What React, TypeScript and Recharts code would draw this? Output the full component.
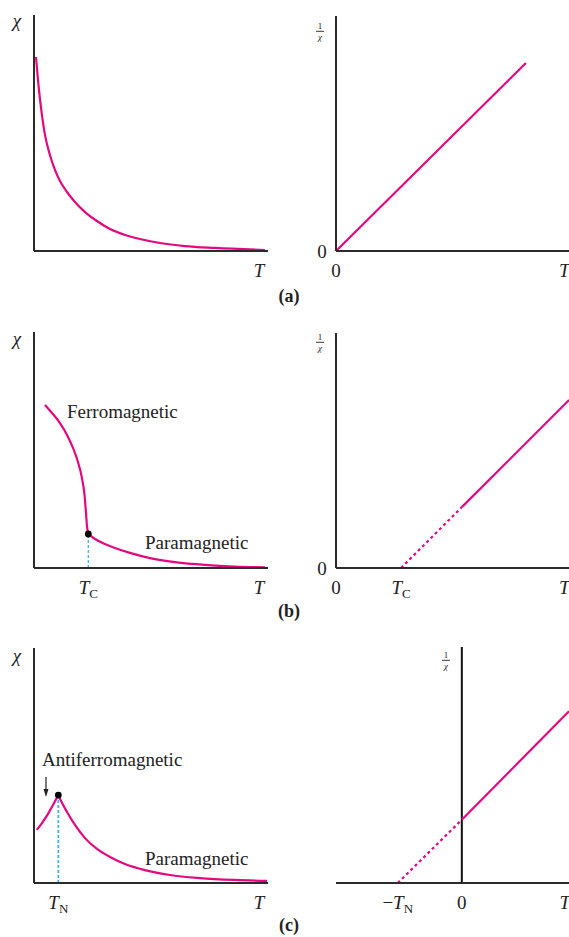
import React from "react";
import { LineChart, Line, XAxis, YAxis, ReferenceLine, ReferenceDot } from "recharts";

const MAGENTA = "#e4087f";
const AXIS = "#2b2b2b";
const CYAN = "#3cb6e8";
const FONT = '"Liberation Serif", "Times New Roman", serif';

// (a) paramagnet: chi vs T, and 1/chi vs T
const tA = [0.085, 0.17, 0.26, 0.34, 0.47, 0.68, 0.9, 1.11, 1.41, 1.75, 2.18, 2.69, 3.25, 3.89, 4.53, 5.38, 6.45, 7.74, 9.87];
const chiA = [8.22, 7.25, 6.4, 5.76, 4.92, 4.07, 3.43, 2.97, 2.5, 2.08, 1.65, 1.27, 0.93, 0.68, 0.51, 0.34, 0.21, 0.13, 0.04];
const tInvA = [0, 8.15];
const invA = [0, 8.0];

// (b) ferromagnet
const Tc = 2.32;
const tFerro = [0.47, 0.77, 1.11, 1.41, 1.67, 1.88, 2.05, 2.16, 2.22, 2.26, 2.32];
const chiFerro = [6.91, 6.57, 6.14, 5.64, 5.08, 4.49, 3.81, 3.09, 2.37, 1.82, 1.44];
const tParaB = [2.32, 2.61, 3.03, 3.46, 4.1, 4.96, 6.03, 7.31, 8.59, 9.87];
const chiParaB = [1.44, 1.23, 1.02, 0.85, 0.64, 0.42, 0.25, 0.13, 0.06, 0.03];
const TcInv = 2.79;
const tInvBDash = [2.79, 5.41];
const invBDash = [0, 2.6];
const tInvBSolid = [5.41, 10];
const invBSolid = [2.6, 7.15];

// (c) antiferromagnet
const TN = 1.04;
const tAnti = [0.12, 0.34, 0.6, 0.81, 1.04];
const chiAnti = [2.26, 2.55, 2.94, 3.32, 3.74];
const tParaC = [1.04, 1.2, 1.41, 1.75, 2.18, 2.69, 3.25, 3.89, 4.74, 5.81, 7.09, 8.59, 9.96];
const chiParaC = [3.74, 3.4, 3.02, 2.47, 1.91, 1.45, 1.11, 0.81, 0.55, 0.34, 0.21, 0.13, 0.09];
const TNInv = -2.75;
const tInvCDash = [-2.75, 0];
const invCDash = [0, 2.68];
const tInvCSolid = [0, 4.6];
const invCSolid = [2.68, 7.28];

const zip = (xs: number[], ys: number[]) => xs.map((x, i) => ({ x, y: ys[i] }));

type Tick = { v: number; main: string; sub?: string; minus?: boolean; italic?: boolean };
type Box = { left: number; top: number; w: number; h: number };
type Plot = { x0: number; x1: number; y0: number; y1: number };

const YW = 2;
const XH = 2;

function Panel(props: {
  box: Box;
  plot: Plot;
  xDomain: number[];
  xTicks: Tick[];
  yZero?: boolean;
  yLine?: boolean;
  children?: React.ReactNode;
}) {
  const { box, plot, xDomain, xTicks, yZero, yLine = true } = props;
  const margin = {
    top: plot.y0 - box.top,
    bottom: box.top + box.h - plot.y1 - XH,
    left: plot.x0 - box.left - YW,
    right: box.left + box.w - plot.x1,
  };
  const xTick = (p: any) => {
    const t = xTicks.find((k) => Math.abs(k.v - p.payload.value) < 1e-6);
    if (!t) return <g />;
    return (
      <text x={p.x} y={p.y + 26} textAnchor="middle" fontFamily={FONT} fontSize={19} fill="#222">
        {t.minus ? "\u2212" : null}
        <tspan fontStyle={t.italic ? "italic" : "normal"}>{t.main}</tspan>
        {t.sub ? (
          <tspan fontSize={13} dy={4}>
            {t.sub}
          </tspan>
        ) : null}
      </text>
    );
  };
  const yTick = (p: any) => (
    <text x={p.x - 14} y={p.y + 6.5} textAnchor="middle" fontFamily={FONT} fontSize={19} fill="#222">
      0
    </text>
  );
  return (
    <div style={{ position: "absolute", left: box.left, top: box.top }}>
      <LineChart width={box.w} height={box.h} margin={margin}>
        <XAxis
          type="number"
          dataKey="x"
          domain={xDomain}
          allowDataOverflow
          ticks={xTicks.map((t) => t.v)}
          interval={0}
          tick={xTick}
          tickLine={false}
          tickSize={0}
          tickMargin={0}
          height={XH}
          axisLine={{ stroke: AXIS, strokeWidth: 2 }}
        />
        <YAxis
          type="number"
          domain={[0, 10]}
          allowDataOverflow
          width={YW}
          ticks={yZero ? [0] : []}
          tick={yZero ? yTick : false}
          tickLine={false}
          tickSize={0}
          tickMargin={0}
          axisLine={yLine ? { stroke: AXIS, strokeWidth: 2 } : false}
        />
        {props.children}
      </LineChart>
    </div>
  );
}

const curve = (data: { x: number; y: number }[], key: string, dashed = false) => (
  <Line
    key={key}
    data={data}
    dataKey="y"
    type="monotone"
    stroke={MAGENTA}
    strokeWidth={2.2}
    strokeDasharray={dashed ? "3 3" : undefined}
    dot={false}
    activeDot={false}
    isAnimationActive={false}
  />
);

const T: Tick = { v: 9.62, main: "T", italic: true };

// 1 over chi
function Frac({ x, y }: { x: number; y: number }) {
  return (
    <g fontFamily={FONT} fill="#222">
      <text x={x} y={y} fontSize={9} textAnchor="middle">1</text>
      <line x1={x - 4} x2={x + 4} y1={y + 2.3} y2={y + 2.3} stroke="#222" strokeWidth={0.9} />
      <text x={x} y={y + 10.5} fontSize={9} fontStyle="italic" textAnchor="middle">χ</text>
    </g>
  );
}

export default function App() {
  const txt = { fontFamily: FONT, fontSize: 19, fill: "#222" } as const;
  return (
    <div style={{ position: "absolute", left: 0, top: 0, width: 569, height: 937, background: "#fff", overflow: "hidden" }}>
      {/* (a) */}
      <Panel box={{ left: 0, top: 0, w: 290, h: 310 }} plot={{ x0: 34, x1: 268, y0: 15, y1: 251 }} xDomain={[0, 10]} xTicks={[T]}>
        {curve(zip(tA, chiA), "a")}
      </Panel>
      <Panel
        box={{ left: 290, top: 0, w: 279, h: 310 }}
        plot={{ x0: 336, x1: 569, y0: 16, y1: 251 }}
        xDomain={[0, 10]}
        xTicks={[{ v: 0, main: "0" }, { v: 9.8, main: "T", italic: true }]}
        yZero
      >
        {curve(zip(tInvA, invA), "ai")}
      </Panel>

      {/* (b) */}
      <Panel box={{ left: 0, top: 310, w: 290, h: 310 }} plot={{ x0: 34, x1: 268, y0: 332, y1: 568 }} xDomain={[0, 10]} xTicks={[{ v: Tc, main: "T", sub: "C", italic: true }, T]}>
        <ReferenceLine segment={[{ x: Tc, y: 0 }, { x: Tc, y: chiParaB[0] }]} stroke={CYAN} strokeWidth={1.3} strokeDasharray="3 2" />
        {curve(zip(tFerro, chiFerro), "bf")}
        {curve(zip(tParaB, chiParaB), "bp")}
        <ReferenceDot x={Tc} y={chiParaB[0]} r={3.4} fill="#000" stroke="none" />
      </Panel>
      <Panel
        box={{ left: 290, top: 310, w: 279, h: 310 }}
        plot={{ x0: 336, x1: 569, y0: 333, y1: 568 }}
        xDomain={[0, 10]}
        xTicks={[{ v: 0, main: "0" }, { v: TcInv, main: "T", sub: "C", italic: true }, { v: 9.8, main: "T", italic: true }]}
        yZero
      >
        {curve(zip(tInvBDash, invBDash), "bd", true)}
        {curve(zip(tInvBSolid, invBSolid), "bs")}
      </Panel>

      {/* (c) */}
      <Panel box={{ left: 0, top: 620, w: 290, h: 317 }} plot={{ x0: 34, x1: 268, y0: 648, y1: 883 }} xDomain={[0, 10]} xTicks={[{ v: TN, main: "T", sub: "N", italic: true }, T]}>
        <ReferenceLine segment={[{ x: TN, y: 0 }, { x: TN, y: chiAnti[4] }]} stroke={CYAN} strokeWidth={1.8} strokeDasharray="3 2" />
        {curve(zip(tAnti, chiAnti), "ca")}
        {curve(zip(tParaC, chiParaC), "cp")}
        <ReferenceDot x={TN} y={chiAnti[4]} r={3.4} fill="#000" stroke="none" />
      </Panel>
      <Panel
        box={{ left: 290, top: 620, w: 279, h: 317 }}
        plot={{ x0: 336, x1: 569, y0: 647, y1: 883 }}
        xDomain={[-5.4, 4.6]}
        xTicks={[{ v: TNInv, main: "T", sub: "N", italic: true, minus: true }, { v: 0, main: "0" }, { v: 4.42, main: "T", italic: true }]}
        yLine={false}
      >
        <ReferenceLine x={0} stroke="#111" strokeWidth={2} />
        {curve(zip(tInvCDash, invCDash), "cd", true)}
        {curve(zip(tInvCSolid, invCSolid), "cs")}
      </Panel>

      {/* titles and notes */}
      <svg width={569} height={937} style={{ position: "absolute", left: 0, top: 0, pointerEvents: "none" }}>
        <text x={17} y={27} {...txt} fontStyle="italic" textAnchor="middle">χ</text>
        <text x={17} y={345} {...txt} fontStyle="italic" textAnchor="middle">χ</text>
        <text x={17} y={662} {...txt} fontStyle="italic" textAnchor="middle">χ</text>
        <Frac x={320} y={29} />
        <Frac x={320} y={340} />
        <Frac x={446} y={658} />

        <text x={67} y={418} {...txt}>Ferromagnetic</text>
        <text x={145} y={549} {...txt}>Paramagnetic</text>
        <text x={42} y={766} {...txt}>Antiferromagnetic</text>
        <text x={145} y={865} {...txt}>Paramagnetic</text>

        <line x1={46} x2={46} y1={777} y2={790} stroke="#222" strokeWidth={1.2} />
        <polygon points="46,797 43.5,789 48.5,789" fill="#222" />

        <text x={289} y={302} {...txt} fontSize={18} fontWeight="bold" textAnchor="middle">(a)</text>
        <text x={289} y={617} {...txt} fontSize={18} fontWeight="bold" textAnchor="middle">(b)</text>
        <text x={289} y={931} {...txt} fontSize={18} fontWeight="bold" textAnchor="middle">(c)</text>
      </svg>
    </div>
  );
}
